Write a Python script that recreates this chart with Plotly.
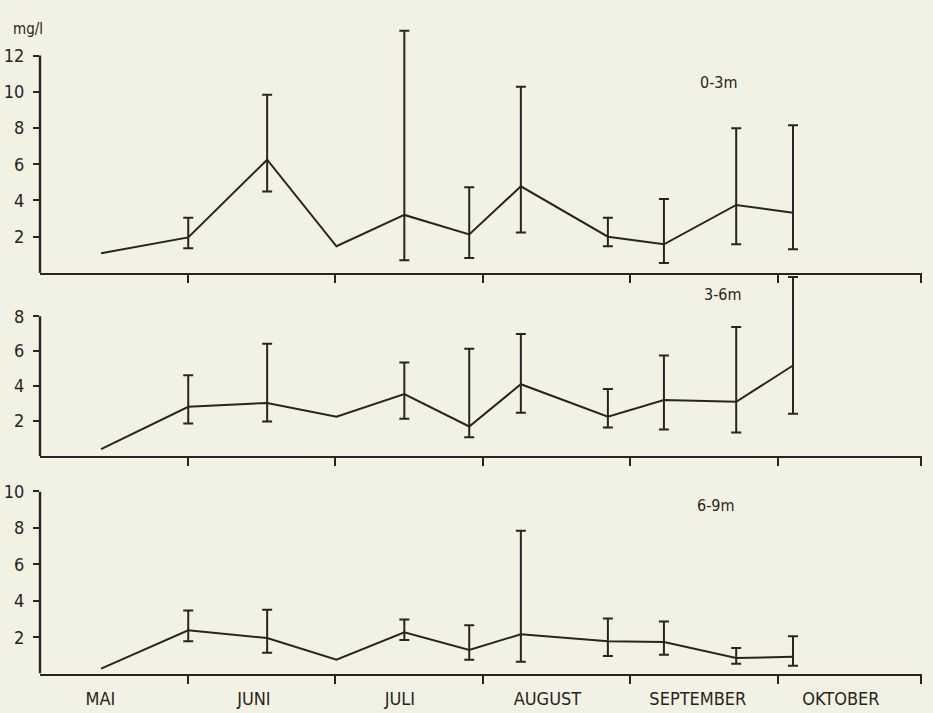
import plotly.graph_objects as go

# ---------------- data ----------------
months = ["MAI", "JUNI", "JULI", "AUGUST", "SEPTEMBER", "OKTOBER"]
month_label_pos = [0.41, 1.45, 2.44, 3.44, 4.46, 5.43]   # month-label positions (months since 1 May)
month_starts = [1, 2, 3, 4, 5]                             # month boundaries
sample_pos = [0.414, 1.005, 1.54, 2.01, 2.47, 2.91, 3.26, 3.85, 4.23, 4.72, 5.105]

mean_0_3 = [1.09, 1.96, 6.25, 1.47, 3.2, 2.12, 4.78, 2.0, 1.58, 3.75, 3.32]
upper_0_3 = [None, 3.04, 9.84, None, 13.37, 4.73, 10.27, 3.04, 4.08, 7.99, 8.15]
lower_0_3 = [None, 1.36, 4.5, None, 0.7, 0.82, 2.23, 1.47, 0.54, 1.58, 1.3]

mean_3_6 = [0.39, 2.82, 3.04, 2.25, 3.55, 1.69, 4.11, 2.25, 3.21, 3.1, 5.18]
upper_3_6 = [None, 4.62, 6.42, None, 5.35, 6.14, 6.98, 3.83, 5.75, 7.38, 10.25]
lower_3_6 = [None, 1.86, 1.97, None, 2.14, 1.07, 2.48, 1.63, 1.52, 1.35, 2.42]

mean_6_9 = [0.27, 2.38, 1.95, 0.76, 2.27, 1.3, 2.16, 1.78, 1.73, 0.86, 0.92]
upper_6_9 = [None, 3.46, 3.51, None, 2.97, 2.65, 7.84, 3.03, 2.86, 1.41, 2.05]
lower_6_9 = [None, 1.78, 1.14, None, 1.84, 0.76, 0.65, 0.97, 1.03, 0.54, 0.43]

panel_names = ["0-3m", "3-6m", "6-9m"]
y_ticks = [[2, 4, 6, 8, 10, 12], [2, 4, 6, 8], [2, 4, 6, 8, 10]]
axis_tops = [12, 8, 10]

# ---------------- layout geometry ----------------
W, H = 933, 713
INK = "#2b2320"
PAPER = "#f1f2e3"
FONT = "DejaVu Sans Condensed, Liberation Sans Narrow, DejaVu Sans, sans-serif"

x_px = (40, 922)
px_per_month = 147.5
x_range = [0, (x_px[1] - x_px[0]) / px_per_month]
# (top px, bottom px, px per unit)
panels_px = [(8, 266, 18.4), (268, 452, 17.75), (488, 673, 18.5)]
label_pos = [(4.6, 10.5), (4.63, 9.24), (4.58, 9.24)]

means = [mean_0_3, mean_3_6, mean_6_9]
uppers = [upper_0_3, upper_3_6, upper_6_9]
lowers = [lower_0_3, lower_3_6, lower_6_9]

fig = go.Figure()
shapes = []
annotations = []

for i in range(3):
    n = "" if i == 0 else str(i + 1)
    xa, ya = "x" + n, "y" + n
    m, up, lo = means[i], uppers[i], lowers[i]
    fig.add_trace(go.Scatter(
        x=sample_pos, y=m, mode="lines", xaxis=xa, yaxis=ya,
        line=dict(color=INK, width=2), showlegend=False, hoverinfo="skip"))
    idx = [k for k in range(len(m)) if up[k] is not None]
    fig.add_trace(go.Scatter(
        x=[sample_pos[k] for k in idx], y=[m[k] for k in idx],
        mode="markers", marker=dict(size=1, opacity=0), xaxis=xa, yaxis=ya,
        error_y=dict(type="data", symmetric=False,
                     array=[up[k] - m[k] for k in idx],
                     arrayminus=[m[k] - lo[k] for k in idx],
                     color=INK, thickness=2, width=5),
        showlegend=False, hoverinfo="skip"))

    top, bot, scale = panels_px[i]
    ydom = [1 - bot / H, 1 - top / H]
    yrange = [0, (bot - top) / scale]
    fig.layout["xaxis" + n] = dict(
        domain=[x_px[0] / W, x_px[1] / W], range=x_range, anchor=ya,
        showline=True, linewidth=2.4, linecolor=INK, showgrid=False, zeroline=False,
        tickmode="array", tickvals=month_label_pos,
        ticktext=months if i == 2 else [""] * len(months),
        showticklabels=(i == 2), ticks="", ticklabelstandoff=8,
        tickfont=dict(family=FONT, size=18, color=INK),
        minor=dict(tickmode="array", tickvals=month_starts + [x_range[1] - 0.005],
                   ticks="outside", ticklen=8, tickwidth=2, tickcolor=INK),
        fixedrange=True)
    fig.layout["yaxis" + n] = dict(
        domain=ydom, range=yrange, anchor=xa,
        showline=False, showgrid=False, zeroline=False,
        tickmode="array", tickvals=y_ticks[i], ticks="outside", ticklen=6,
        tickwidth=2, tickcolor=INK, ticklabelstandoff=5,
        tickfont=dict(family=FONT, size=18, color=INK), fixedrange=True)
    shapes.append(dict(type="line", xref=xa + " domain", yref=ya,
                       x0=0, x1=0, y0=0, y1=axis_tops[i],
                       line=dict(color=INK, width=2.4)))
    annotations.append(dict(text=panel_names[i], xref=xa, yref=ya,
                            x=label_pos[i][0], y=label_pos[i][1], showarrow=False,
                            font=dict(family=FONT, size=16, color=INK)))

annotations.append(dict(text="mg/l", xref="paper", yref="paper", x=28 / W, y=1 - 18 / H,
                        xanchor="center", yanchor="middle",
                        showarrow=False, font=dict(family=FONT, size=15, color=INK)))

fig.update_layout(width=W, height=H, margin=dict(l=0, r=0, t=0, b=0),
                  paper_bgcolor=PAPER, plot_bgcolor="rgba(0,0,0,0)",
                  shapes=shapes, annotations=annotations, showlegend=False)

fig.write_html("out.html", config={"displayModeBar": False},
               post_script="document.body.style.margin='0';document.body.style.background='%s';" % PAPER)
